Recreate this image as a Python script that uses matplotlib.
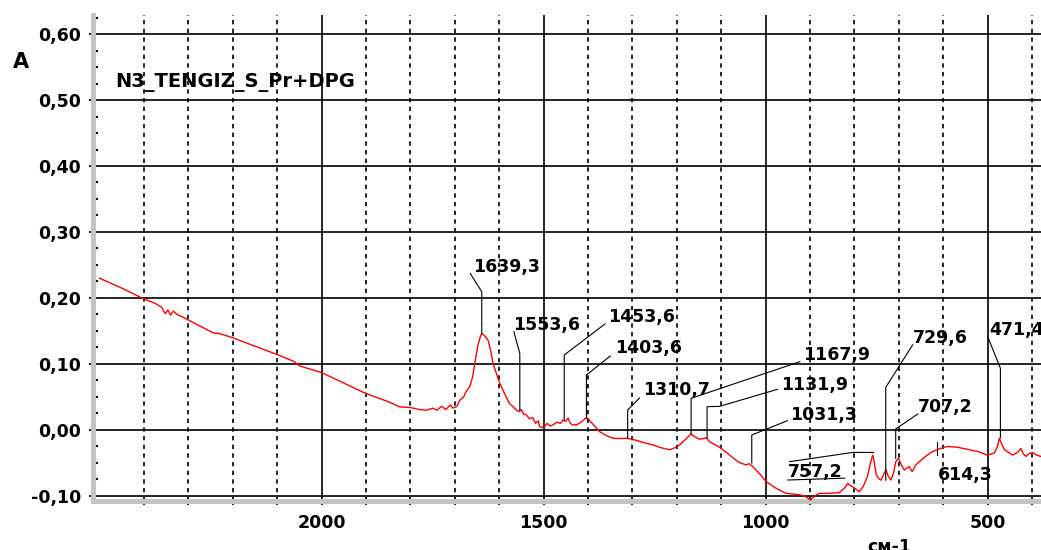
import numpy as np
import matplotlib
matplotlib.use("Agg")
import matplotlib.pyplot as plt
from matplotlib.ticker import MultipleLocator, FixedLocator

# ---------------- data ----------------
wavenumber = [2500, 2450, 2403, 2375, 2360, 2352, 2346, 2340, 2334, 2325, 2315, 2300,
              2244, 2229, 2201, 2150, 2099, 2064, 2049, 2000, 1950, 1901, 1850, 1824,
              1800, 1780, 1764, 1750, 1740, 1730, 1720, 1710, 1704, 1695, 1689, 1680,
              1675, 1666, 1660, 1655, 1648, 1642, 1639, 1633, 1625, 1619, 1614, 1606,
              1599, 1590, 1577, 1570, 1561, 1555, 1550, 1545, 1539, 1532, 1525, 1518,
              1512, 1509, 1500, 1492, 1485, 1479, 1470, 1462, 1457, 1450, 1445, 1440,
              1434, 1425, 1415, 1405, 1400, 1395, 1385, 1374, 1360, 1344, 1330, 1314,
              1300, 1280, 1254, 1235, 1216, 1205, 1194, 1180, 1168, 1160, 1149, 1140,
              1133, 1126, 1104, 1090, 1074, 1060, 1044, 1037, 1030, 1014, 999, 980,
              954, 924, 910, 899, 890, 879, 860, 834, 820, 815, 810, 804, 789, 780,
              771, 764, 759, 755, 751, 745, 740, 735, 729, 724, 718, 712, 707, 701,
              695, 688, 682, 677, 670, 662, 654, 640, 625, 610, 592, 570, 547, 520,
              502, 485, 478, 474, 468, 462, 455, 444, 435, 430, 425, 420, 414, 407,
              399, 390, 381]
absorbance = [0.230, 0.215, 0.1995, 0.192, 0.186, 0.176, 0.182, 0.174, 0.180, 0.175, 0.172, 0.1667,
              0.147, 0.146, 0.140, 0.127, 0.114, 0.1045, 0.097, 0.087, 0.071, 0.0555, 0.043, 0.035,
              0.034, 0.031, 0.030, 0.033, 0.030, 0.036, 0.031, 0.038, 0.033, 0.036, 0.045, 0.050,
              0.058, 0.066, 0.080, 0.101, 0.128, 0.143, 0.146, 0.143, 0.136, 0.120, 0.101, 0.085,
              0.071, 0.058, 0.040, 0.036, 0.030, 0.028, 0.031, 0.024, 0.023, 0.017, 0.019, 0.010,
              0.014, 0.005, 0.0035, 0.010, 0.006, 0.0076, 0.012, 0.010, 0.015, 0.013, 0.018, 0.010,
              0.0076, 0.008, 0.012, 0.018, 0.0177, 0.013, 0.006, -0.0025, -0.008, -0.0126, -0.013, -0.0126,
              -0.014, -0.018, -0.0227, -0.027, -0.030, -0.027, -0.0227, -0.014, -0.006, -0.010, -0.014, -0.013,
              -0.012, -0.018, -0.026, -0.033, -0.042, -0.049, -0.053, -0.051, -0.055, -0.066, -0.078, -0.087,
              -0.096, -0.098, -0.101, -0.106, -0.100, -0.096, -0.096, -0.095, -0.086, -0.081, -0.084, -0.086, -0.0935, -0.085,
              -0.071, -0.050, -0.038, -0.050, -0.068, -0.074, -0.076, -0.068, -0.0606, -0.070, -0.076, -0.065, -0.048, -0.043,
              -0.052, -0.0606, -0.058, -0.0556, -0.063, -0.053, -0.048, -0.040, -0.033, -0.029, -0.025, -0.026, -0.029, -0.033,
              -0.038, -0.035, -0.025, -0.0126, -0.022, -0.030, -0.033, -0.038, -0.035, -0.032, -0.028, -0.036, -0.040, -0.036,
              -0.034, -0.038, -0.040]

peak_labels = ['1639,3', '1553,6', '1453,6', '1403,6', '1310,7', '1167,9', '1131,9',
               '1031,3', '757,2', '729,6', '707,2', '614,3', '471,4']
peak_positions = [1639.3, 1553.6, 1453.6, 1403.6, 1310.7, 1167.9, 1131.9,
                  1031.3, 757.2, 729.6, 707.2, 614.3, 471.4]

y_ticks = [-0.10, 0.00, 0.10, 0.20, 0.30, 0.40, 0.50, 0.60]
y_tick_labels = ['-0,10', '0,00', '0,10', '0,20', '0,30', '0,40', '0,50', '0,60']
x_ticks = [2000, 1500, 1000, 500]
x_tick_labels = ['2000', '1500', '1000', '500']
x_minor_ticks = [2400, 2300, 2200, 2100, 1900, 1800, 1700, 1600, 1400, 1300, 1200,
                 1100, 900, 800, 700, 600, 400]
sample_name = 'N3_TENGIZ_S_Pr+DPG'

# ---------------- layout for the peak annotations (leader paths, text anchor) ----------------
leader_paths = [
    [(1639.3, 0.146), (1639.3, 0.2095), (1665, 0.237)],
    [(1553.6, 0.030), (1553.6, 0.116), (1567, 0.149)],
    [(1453.6, 0.015), (1453.6, 0.1136), (1362, 0.1606)],
    [(1403.6, 0.018), (1403.6, 0.0833), (1350, 0.112)],
    [(1310.7, -0.0126), (1310.7, 0.0303), (1284, 0.0485)],
    [(1167.9, -0.006), (1167.9, 0.048), (923, 0.1035)],
    [(1131.9, -0.012), (1131.9, 0.0353), (1104, 0.0358), (973, 0.0617)],
    [(1031.3, -0.050), (1031.3, -0.0076), (951, 0.0141)],
    [(757.2, -0.034), (804, -0.034), (946, -0.048)],
    [(729.6, -0.076), (729.6, 0.0647), (669, 0.129)],
    [(707.2, -0.043), (707.2, 0.0015), (657.6, 0.0242)],
    [(614.3, -0.0177), (614.3, -0.038)],
    [(471.4, -0.012), (471.4, 0.0935), (500, 0.1414)],
]
text_anchor = [(1659, 0.2398), (1569, 0.1515), (1355, 0.164), (1340, 0.116), (1276, 0.053),
               (916, 0.106), (965, 0.0606), (946, 0.0152), (950, -0.0707), (669, 0.1313),
               (657.6, 0.0278), (612.5, -0.0758), (496, 0.144)]

# ---------------- figure ----------------
plt.rcParams['font.family'] = ['DejaVu Sans']
plt.rcParams['font.weight'] = 'bold'

W, H = 1041, 550
fig = plt.figure(figsize=(W / 100, H / 100), dpi=100)
ax = fig.add_axes([93.3 / W, 1 - 501 / H, 1 - 93.3 / W, (501 - 15) / H])

ax.plot(wavenumber, absorbance, color='#ff0000', lw=1.0, zorder=4)

ax.set_xlim(2514, 380)
ax.set_ylim(-0.1076, 0.6288)

# grid
ax.xaxis.set_major_locator(FixedLocator(x_ticks))
ax.set_xticklabels(x_tick_labels)
ax.xaxis.set_minor_locator(FixedLocator(x_minor_ticks))
ax.set_yticks(y_ticks)
ax.set_yticklabels(y_tick_labels)
ax.yaxis.set_minor_locator(MultipleLocator(0.025))

ax.grid(which='major', axis='x', color='black', lw=1.2, ls='-')
ax.grid(which='minor', axis='x', color='black', lw=1.2, ls=(0, (2.6, 2.6)))
ax.grid(which='major', axis='y', color='black', lw=1.2, ls='-')
ax.set_axisbelow(True)

ax.tick_params(axis='x', which='both', direction='out', length=3, width=1.2, color='black',
               labelsize=12.5, pad=6)
ax.tick_params(axis='y', which='major', direction='out', length=3, width=1.2, color='black',
               labelsize=12.5, pad=6)
ax.tick_params(axis='y', which='minor', direction='in', length=3.5, width=1.5, color='black')

for s in ['top', 'right']:
    ax.spines[s].set_visible(False)
for s in ['left', 'bottom']:
    ax.spines[s].set_color('#c4c4c4')
    ax.spines[s].set_linewidth(3.6)

# title inside plot
ax.text(2465, 0.526, sample_name, fontsize=14, fontweight='bold', va='center', ha='left',
        color='black', zorder=5)

# peak annotations
for lab, path, (tx, ty) in zip(peak_labels, leader_paths, text_anchor):
    xs = [p[0] for p in path]
    ys = [p[1] for p in path]
    ax.plot(xs, ys, color='black', lw=0.8, zorder=5)
    ax.text(tx, ty, lab, fontsize=12.5, fontweight='bold', ha='left', va='baseline',
            color='black', zorder=6)
# underline under 757,2
ax.plot([950, 822], [-0.0758, -0.073], color='black', lw=0.8, zorder=5)

fig.text(21 / W, 1 - 62 / H, 'A', fontsize=15, fontweight='bold', ha='center', va='center')
fig.text(889 / W, 1 - 538 / H, 'см-1', fontsize=12.5, fontweight='bold', ha='center', va='top')

fig.savefig('out.png', dpi=100)
